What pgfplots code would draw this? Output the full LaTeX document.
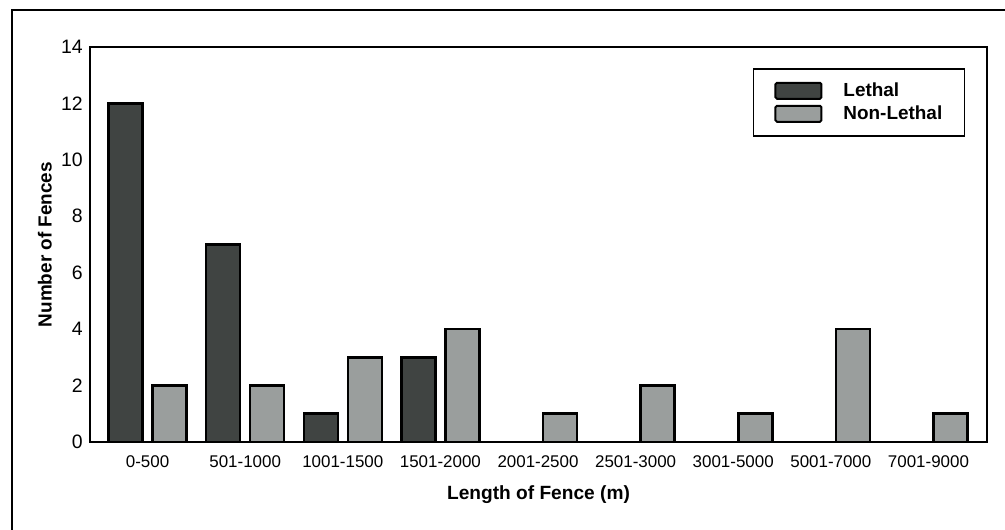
\documentclass[border=0pt]{standalone}
\usepackage{pgfplots}
\pgfplotsset{compat=1.18}
\usepackage{fontspec}
\setmainfont{Liberation Sans}
\definecolor{lethal}{RGB}{64,68,66}
\definecolor{nonlethal}{RGB}{154,158,157}
\begin{document}
\begin{tikzpicture}
\begin{axis}[
  scale only axis, width=897bp, height=395bp,
  axis line style={line width=2.2bp},
  ybar=10bp, bar width=34bp,
  xmin=-0.59, xmax=8.6, ymin=0, ymax=14,
  xtick={0,...,8},
  xticklabels={0-500,501-1000,1001-1500,1501-2000,2001-2500,2501-3000,3001-5000,5001-7000,7001-9000},
  ytick={0,2,...,14},
  major tick length=0pt,
  /pgf/number format/assume math mode=true,
  xticklabel style={font=\fontsize{17}{20}\selectfont, anchor=base, inner sep=0pt, yshift=-25bp},
  yticklabel style={font=\fontsize{19.5}{22}\selectfont, anchor=east, inner sep=0pt, xshift=-7bp},
  xlabel={Length of Fence (m)},
  ylabel={Number of Fences},
  xlabel style={font=\bfseries\fontsize{19.2}{22}\selectfont, at={(axis description cs:0.5,-0.1443)}, anchor=base},
  ylabel style={font=\bfseries\fontsize{19}{22}\selectfont, at={(axis description cs:-0.0502,0.5)}, anchor=center},
  legend style={draw=black, line width=1.5bp, at={(0.9755,0.9468)}, anchor=north east,
    font=\bfseries\fontsize{19}{21}\selectfont, inner xsep=21bp, inner ysep=13bp,
    row sep=5bp, column sep=20bp, nodes={inner sep=1bp}},
  legend cell align=left,
]
\addplot[fill=lethal, draw=black, line width=2.6bp,
  legend image code/.code={\draw[fill=lethal, draw=black, line width=2bp, rounded corners=1.5bp] (0bp,-8bp) rectangle (46bp,8bp);}]
  coordinates {(0,12) (1,7) (2,1) (3,3)};
\addplot[fill=nonlethal, draw=black, line width=2.6bp,
  legend image code/.code={\draw[fill=nonlethal, draw=black, line width=2bp, rounded corners=1.5bp] (0bp,-8bp) rectangle (46bp,8bp);}]
  coordinates {(0,2) (1,2) (2,3) (3,4) (4,1) (5,2) (6,1) (7,4) (8,1)};
\legend{Lethal,Non-Lethal}
\end{axis}
\pgfresetboundingbox
\path[use as bounding box] (-90bp,-88bp) rectangle (915bp,442bp);
\draw[line width=2.5bp] (-78bp,-100bp) -- (-78bp,432bp) -- (930bp,432bp);
\end{tikzpicture}
\end{document}
